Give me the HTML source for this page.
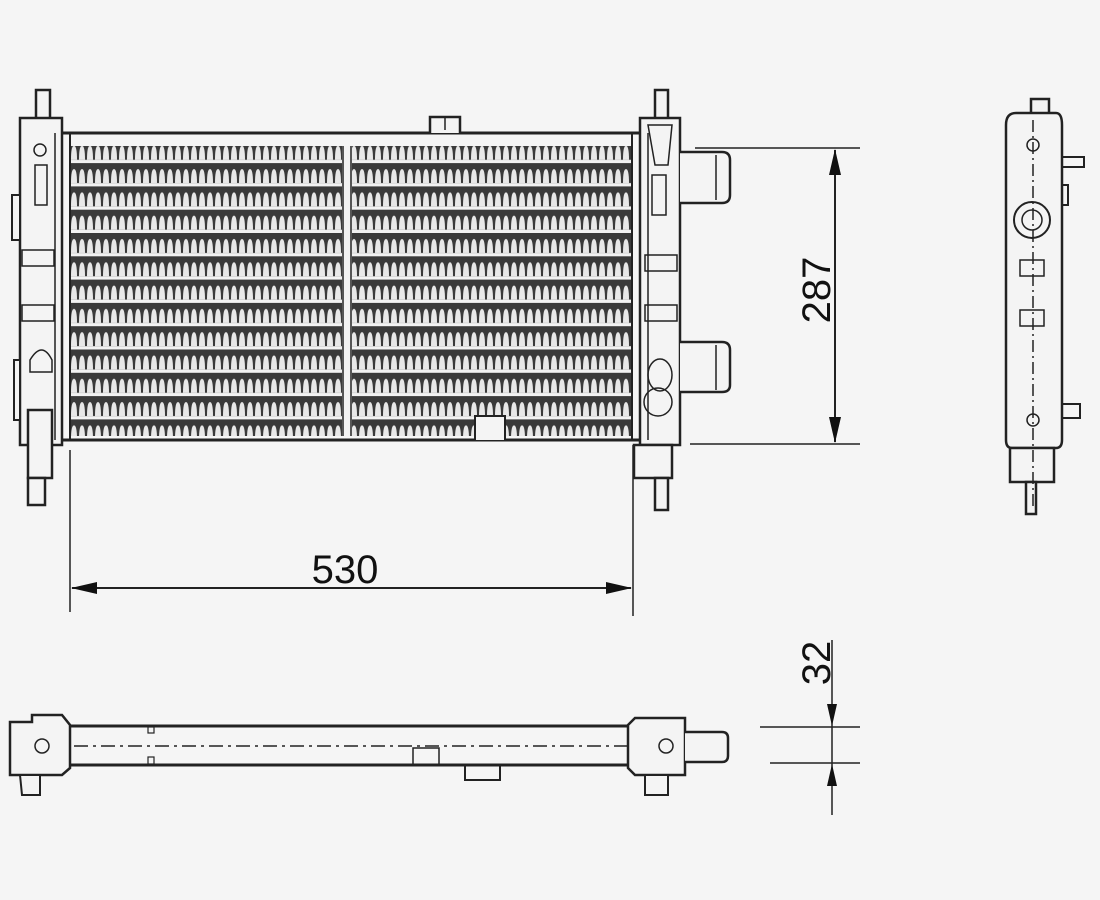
<!DOCTYPE html>
<html><head><meta charset="utf-8"><style>
html,body{margin:0;padding:0;background:#f5f5f5;}
svg{display:block}
text{font-family:"Liberation Sans",sans-serif;}
</style></head><body>
<svg width="1100" height="900" viewBox="0 0 1100 900" xmlns="http://www.w3.org/2000/svg">
<defs>
<pattern id="fin" x="70" y="0" width="8" height="23.3" patternUnits="userSpaceOnUse">
<rect width="8" height="23.3" fill="#3a3a3a"/>
<path d="M1 20 Q1 6 4 6 Q7 6 7 20 Z" fill="#e8e8e8"/>
<rect x="0" y="20" width="8" height="3.3" fill="#f2f2f2"/>
</pattern>
</defs>
<rect width="1100" height="900" fill="#f5f5f5"/>
<g stroke="#222" fill="none" stroke-width="2.5">
<!-- core -->
<rect x="70" y="146" width="562" height="290" fill="url(#fin)" stroke="none"/>
<rect x="342" y="146" width="10" height="290" fill="#f2f2f2" stroke="none"/>
<line x1="343" y1="146" x2="343" y2="436" stroke-width="1.5"/>
<line x1="351" y1="146" x2="351" y2="436" stroke-width="1.5"/>
<rect x="70" y="134" width="562" height="12" fill="#f4f4f4" stroke="none"/>
<line x1="62" y1="133" x2="642" y2="133" stroke-width="3"/>
<line x1="62" y1="440" x2="642" y2="440" stroke-width="3"/>
<line x1="70" y1="133" x2="70" y2="440" stroke-width="2"/>
<line x1="632" y1="133" x2="632" y2="440" stroke-width="2"/>
<!-- top bracket -->
<path d="M430 133 V117 H460 V133" fill="#f4f4f4"/>
<line x1="445" y1="117" x2="445" y2="130" stroke-width="1.5"/>
<!-- bottom tab -->
<path d="M475 440 V416 H505 V440" fill="#f4f4f4" stroke-width="2"/>
<!-- left tank -->
<path d="M36 118 V90 H50 V118" fill="#f4f4f4"/>
<path d="M20 118 H62 V445 H20 Z" fill="#f4f4f4"/>
<line x1="55" y1="133" x2="55" y2="440" stroke-width="1.5"/>
<path d="M12 195 H20 V240 H12 Z" fill="#f4f4f4" stroke-width="2"/>
<path d="M14 360 H20 V420 H14 Z" fill="#f4f4f4" stroke-width="2"/>
<circle cx="40" cy="150" r="6" stroke-width="1.5"/>
<rect x="35" y="165" width="12" height="40" stroke-width="1.5"/>
<rect x="22" y="250" width="32" height="16" stroke-width="1.5"/>
<rect x="22" y="305" width="32" height="16" stroke-width="1.5"/>
<path d="M30 360 Q42 340 52 360 V372 H30 Z" stroke-width="1.5"/>
<path d="M28 410 H52 V478 H28 Z" fill="#f4f4f4"/>
<path d="M28 478 H45 V505 H28 Z" fill="#f4f4f4"/>
<!-- right tank -->
<path d="M655 118 V90 H668 V118" fill="#f4f4f4"/>
<path d="M640 118 H680 V445 H640 Z" fill="#f4f4f4"/>
<line x1="648" y1="133" x2="648" y2="440" stroke-width="1.5"/>
<path d="M680 152 H722 Q730 152 730 160 V195 Q730 203 722 203 H680" fill="#f4f4f4"/>
<line x1="716" y1="155" x2="716" y2="200" stroke-width="1.5"/>
<path d="M680 342 H722 Q730 342 730 350 V385 Q730 392 722 392 H680" fill="#f4f4f4"/>
<line x1="716" y1="345" x2="716" y2="390" stroke-width="1.5"/>
<path d="M648 125 L672 125 L668 165 L655 165 Z" stroke-width="1.5"/>
<rect x="652" y="175" width="14" height="40" stroke-width="1.5"/>
<rect x="645" y="255" width="32" height="16" stroke-width="1.5"/>
<rect x="645" y="305" width="32" height="16" stroke-width="1.5"/>
<ellipse cx="660" cy="375" rx="12" ry="16" stroke-width="1.5"/>
<circle cx="658" cy="402" r="14" stroke-width="1.5"/>
<path d="M634 445 H672 V478 H634 Z" fill="#f4f4f4"/>
<path d="M655 478 H668 V510 H655 Z" fill="#f4f4f4"/>
<!-- side view -->
<path d="M1031 113 V99 H1049 V113" fill="#f4f4f4"/>
<path d="M1006 125 Q1006 113 1016 113 H1056 Q1062 113 1062 125 V440 Q1062 448 1056 448 H1012 Q1006 448 1006 440 Z" fill="#f4f4f4"/>
<path d="M1010 448 H1054 V482 H1010 Z" fill="#f4f4f4"/>
<path d="M1026 482 H1036 V514 H1026 Z" fill="#f4f4f4"/>
<path d="M1062 157 H1084 V167 H1062" stroke-width="2"/>
<path d="M1062 404 H1080 V418 H1062" stroke-width="2"/>
<path d="M1062 185 H1068 V205 H1062" stroke-width="2"/>
<circle cx="1032" cy="220" r="18" stroke-width="2"/>
<circle cx="1032" cy="220" r="10" stroke-width="1.5"/>
<rect x="1020" y="260" width="24" height="16" stroke-width="1.5"/>
<rect x="1020" y="310" width="24" height="16" stroke-width="1.5"/>
<circle cx="1033" cy="145" r="6" stroke-width="1.5"/>
<circle cx="1033" cy="420" r="6" stroke-width="1.5"/>
<line x1="1033" y1="120" x2="1033" y2="510" stroke-width="1.5" stroke-dasharray="12 4 2 4"/>
<!-- dimension 287 -->
<line x1="695" y1="148" x2="860" y2="148" stroke-width="1.5"/>
<line x1="690" y1="444" x2="860" y2="444" stroke-width="1.5"/>
<line x1="835" y1="150" x2="835" y2="442" stroke-width="2"/>
<!-- dimension 530 -->
<line x1="70" y1="450" x2="70" y2="612" stroke-width="1.5"/>
<line x1="633" y1="445" x2="633" y2="616" stroke-width="1.5"/>
<line x1="72" y1="588" x2="631" y2="588" stroke-width="2"/>
<!-- bottom view -->
<line x1="45" y1="726" x2="630" y2="726" stroke-width="3"/>
<line x1="45" y1="765" x2="630" y2="765" stroke-width="3"/>
<line x1="20" y1="746" x2="720" y2="746" stroke-width="1.5" stroke-dasharray="14 5 3 5"/>
<path d="M10 722 H32 V715 H62 L70 725 V768 L62 775 H10 Z" fill="#f4f4f4"/>
<circle cx="42" cy="746" r="7" stroke-width="1.5"/>
<path d="M20 775 H40 V795 H22 Z" fill="#f4f4f4" stroke-width="2"/>
<path d="M628 725 L635 718 H685 V775 H635 L628 768 Z" fill="#f4f4f4"/>
<path d="M685 732 H722 Q728 732 728 738 V756 Q728 762 722 762 H685" fill="#f4f4f4"/>
<circle cx="666" cy="746" r="7" stroke-width="1.5"/>
<path d="M645 775 H668 V795 H645 Z" fill="#f4f4f4" stroke-width="2"/>
<path d="M465 765 V780 H500 V765" stroke-width="2"/>
<rect x="413" y="748" width="26" height="17" stroke-width="1.5"/>
<rect x="148" y="727" width="6" height="6" stroke-width="1.2"/>
<rect x="148" y="757" width="6" height="7" stroke-width="1.2"/>
<!-- dimension 32 -->
<line x1="760" y1="727" x2="860" y2="727" stroke-width="1.5"/>
<line x1="770" y1="763" x2="860" y2="763" stroke-width="1.5"/>
<line x1="832" y1="640" x2="832" y2="815" stroke-width="1.5"/>
</g>
<g fill="#111">
<path d="M835 149 L829 175 L841 175 Z"/>
<path d="M835 443 L829 417 L841 417 Z"/>
<path d="M71 588 L97 582 L97 594 Z"/>
<path d="M632 588 L606 582 L606 594 Z"/>
<path d="M832 726 L827 704 L837 704 Z"/>
<path d="M832 764 L827 786 L837 786 Z"/>
</g>
<text x="0" y="0" font-size="40" fill="#111" transform="translate(830,290) rotate(-90)" text-anchor="middle">287</text>
<text x="345" y="583" font-size="40" fill="#111" text-anchor="middle">530</text>
<text x="0" y="0" font-size="40" fill="#111" transform="translate(830,663) rotate(-90)" text-anchor="middle">32</text>
</svg>
</body></html>
